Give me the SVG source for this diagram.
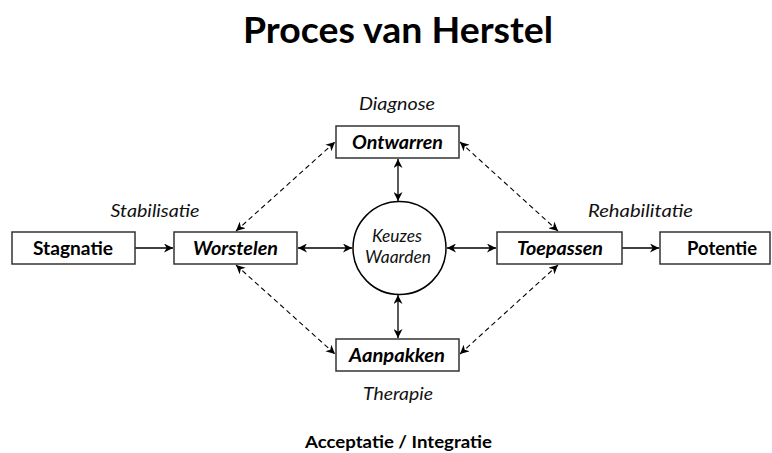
<svg xmlns="http://www.w3.org/2000/svg" width="772" height="453" viewBox="0 0 772 453">
<style>
.box{fill:#fff;stroke:#333;stroke-width:1.5}
.lbl{font-family:Lato,"Liberation Sans",sans-serif;font-weight:bold;font-size:19px;fill:#000;text-anchor:middle}
.bi{font-style:italic}
.it{font-family:Lato,"Liberation Sans",sans-serif;font-style:italic;font-size:17px;fill:#111;text-anchor:middle}
.ln{stroke:#000;stroke-width:1.3;fill:none;marker-end:url(#ah)}
.bd{marker-start:url(#ah)}
.ds{stroke-dasharray:5,3.5;stroke-width:1.1}
</style>
<defs>
<marker id="ah" viewBox="0 0 10 10" refX="10" refY="5" markerWidth="9" markerHeight="9" markerUnits="userSpaceOnUse" orient="auto-start-reverse">
<path d="M0,0 L10,5 L0,10 L3,5 z" fill="#000"/>
</marker>
</defs>
<text x="398" y="43" font-family="Lato,'Liberation Sans',sans-serif" font-weight="bold" font-size="37" text-anchor="middle" textLength="310" lengthAdjust="spacingAndGlyphs">Proces van Herstel</text>
<g id="connectors">
<line class="ln" x1="135" y1="248" x2="173" y2="248"/>
<line class="ln bd" x1="298" y1="248" x2="352" y2="248"/>
<line class="ln bd" x1="447" y1="248" x2="496" y2="248"/>
<line class="ln" x1="622" y1="248" x2="659" y2="248"/>
<line class="ln bd" x1="398" y1="159" x2="398" y2="201"/>
<line class="ln bd" x1="398" y1="295" x2="398" y2="338"/>
<line class="ln bd ds" x1="236" y1="231" x2="335" y2="142"/>
<line class="ln bd ds" x1="460" y1="142" x2="558" y2="231"/>
<line class="ln bd ds" x1="236" y1="265" x2="335" y2="354"/>
<line class="ln bd ds" x1="460" y1="354" x2="558" y2="265"/>
</g>
<g id="stagnatie">
<rect class="box" x="12" y="232" width="123" height="32"/>
<text class="lbl" x="73" y="254.5" textLength="80" lengthAdjust="spacingAndGlyphs">Stagnatie</text>
</g>
<g id="worstelen">
<rect class="box" x="174" y="232" width="123" height="32"/>
<text class="lbl bi" x="235.5" y="254.5" textLength="85" lengthAdjust="spacingAndGlyphs">Worstelen</text>
<text class="it" x="155" y="217" textLength="89" lengthAdjust="spacingAndGlyphs">Stabilisatie</text>
</g>
<g id="keuzes">
<circle cx="399.5" cy="248" r="46.5" fill="#fff" stroke="#000" stroke-width="1.5"/>
<text class="it" x="397" y="242" font-size="16" textLength="50" lengthAdjust="spacingAndGlyphs">Keuzes</text>
<text class="it" x="398" y="263" font-size="16" textLength="66" lengthAdjust="spacingAndGlyphs">Waarden</text>
</g>
<g id="toepassen">
<rect class="box" x="497" y="232" width="125" height="32"/>
<text class="lbl bi" x="560" y="254.5" textLength="86" lengthAdjust="spacingAndGlyphs">Toepassen</text>
<text class="it" x="640.5" y="217" textLength="105" lengthAdjust="spacingAndGlyphs">Rehabilitatie</text>
</g>
<g id="potentie">
<rect class="box" x="660" y="232" width="110" height="32"/>
<text class="lbl" x="722" y="254.5" textLength="70" lengthAdjust="spacingAndGlyphs">Potentie</text>
</g>
<g id="ontwarren">
<rect class="box" x="336" y="126" width="123" height="32"/>
<text class="lbl bi" x="397.5" y="148.5" textLength="91" lengthAdjust="spacingAndGlyphs">Ontwarren</text>
<text class="it" x="397" y="110" textLength="76" lengthAdjust="spacingAndGlyphs">Diagnose</text>
</g>
<g id="aanpakken">
<rect class="box" x="336" y="339" width="123" height="32"/>
<text class="lbl bi" x="397" y="361.5" textLength="96" lengthAdjust="spacingAndGlyphs">Aanpakken</text>
<text class="it" x="398" y="400" textLength="70" lengthAdjust="spacingAndGlyphs">Therapie</text>
</g>
<text x="398.5" y="448" font-family="Lato,'Liberation Sans',sans-serif" font-weight="bold" font-size="17" text-anchor="middle" textLength="187" lengthAdjust="spacingAndGlyphs">Acceptatie / Integratie</text>
</svg>
